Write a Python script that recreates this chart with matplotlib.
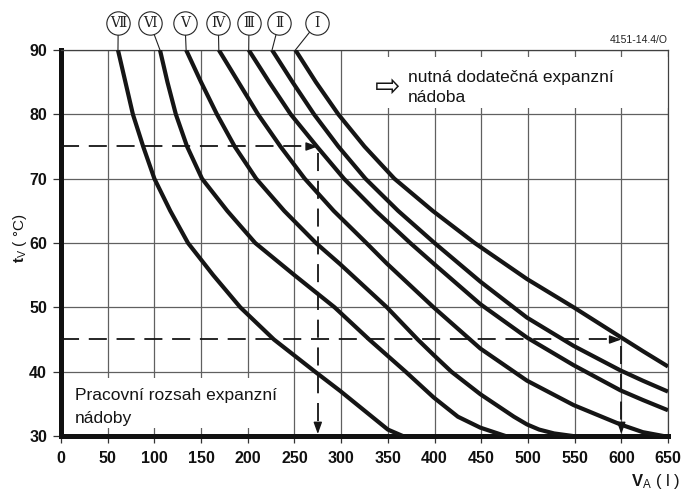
import matplotlib
matplotlib.use('Agg')
import matplotlib.pyplot as plt
from matplotlib.patches import Rectangle

# ---------------- data ----------------
roman = ['Ⅰ', 'Ⅱ', 'Ⅲ', 'Ⅳ', 'Ⅴ', 'Ⅵ', 'Ⅶ']

vol_I = [251, 273, 297, 325, 357, 398, 443, 499, 549, 599, 623, 650]
tv_I = [90, 85, 80, 75, 70, 65, 60, 54.4, 50, 45.4, 43.2, 40.8]

vol_II = [226, 248, 271, 297, 326, 361, 400, 449, 499, 549, 599, 623, 650]
tv_II = [90, 85, 80, 75, 70, 65, 60, 54, 48.4, 44, 40.2, 38.6, 36.9]

vol_III = [201, 223, 246, 274, 303, 337, 374, 399, 449, 499, 549, 599, 623, 650]
tv_III = [90, 85, 80, 75, 70, 65, 60, 56.8, 50.5, 45.3, 41.0, 37.1, 35.6, 34.0]

vol_IV = [169, 190, 211, 235, 261, 292, 327, 349, 399, 449, 499, 549, 599, 623, 645]
tv_IV = [90, 85, 80, 75, 70, 65, 60, 56.8, 50, 43.6, 38.6, 34.8, 31.8, 30.6, 30]

vol_V = [134, 150, 167, 186, 209, 239, 273, 299, 349, 382, 399, 418, 449, 485, 499, 512, 528, 548]
tv_V = [90, 85, 80, 75, 70, 65, 60, 56.7, 50, 45, 42.6, 40, 36.5, 33, 31.8, 31, 30.4, 30]

vol_VI = [106, 114, 123, 135, 151, 178, 208, 250, 293, 330, 369, 399, 425, 449, 476]
tv_VI = [90, 85, 80, 75, 70, 65, 60, 55, 50, 45, 40, 36, 33, 31.3, 30]

vol_VII = [61, 69, 77, 88, 100, 117, 136, 163, 192, 228, 272, 299, 316, 333, 350, 366]
tv_VII = [90, 85, 80, 75, 70, 65, 60, 55, 50, 45, 40, 37, 35, 33, 31, 30]

curves_vol = [vol_I, vol_II, vol_III, vol_IV, vol_V, vol_VI, vol_VII]
curves_tv = [tv_I, tv_II, tv_III, tv_IV, tv_V, tv_VI, tv_VII]

# example readings (V_A, t_V)
example_vol = [275, 600]
example_tv = [75, 45]

x_ticks = list(range(0, 651, 50))
y_ticks = list(range(30, 91, 10))

# label circle x-positions (layout)
label_x = [273.8, 233.4, 201.3, 168.4, 132.8, 95.3, 61.3]
label_y = 94.15

# ---------------- figure ----------------
plt.rcParams['font.family'] = ['Liberation Sans', 'DejaVu Sans']
plt.rcParams['mathtext.fontset'] = 'custom'
plt.rcParams['mathtext.rm'] = 'Liberation Sans'
plt.rcParams['mathtext.bf'] = 'Liberation Sans:bold'
plt.rcParams['mathtext.it'] = 'Liberation Sans'
plt.rcParams['lines.scale_dashes'] = False

W, H = 685, 490
fig = plt.figure(figsize=(W / 100, H / 100), dpi=100)
ax = fig.add_axes([61 / W, 1 - 436 / H, (668 - 61) / W, (436 - 50) / H])
ax.set_xlim(0, 650)
ax.set_ylim(30, 90)
ax.set_xticks(x_ticks)
ax.set_yticks(y_ticks)
ax.set_axisbelow(True)
ax.grid(True, color='#606060', lw=0.9)

for s in ['top', 'right']:
    ax.spines[s].set_linewidth(0.9)
    ax.spines[s].set_color('#404040')
for s in ['left', 'bottom']:
    ax.spines[s].set_linewidth(3.6)
    ax.spines[s].set_color('#111111')
    ax.spines[s].set_capstyle('projecting')

ax.tick_params(axis='y', direction='out', length=6, width=0.9, color='#333333', pad=4)
ax.tick_params(axis='x', direction='out', length=5, width=0.9, color='#333333', pad=6)
for lbl in ax.get_xticklabels() + ax.get_yticklabels():
    lbl.set_fontweight('bold')
    lbl.set_fontsize(11.5)
    lbl.set_color('#111111')

# white boxes behind the texts (cover grid)
ax.add_patch(Rectangle((330, 81.0), 320, 7.9, facecolor='white', edgecolor='none', zorder=1))
ax.add_patch(Rectangle((1.5, 31.2), 241, 7.8, facecolor='white', edgecolor='none', zorder=1))

# curves
for xs, ys in zip(curves_vol, curves_tv):
    ax.plot(xs, ys, color='#151515', lw=3.0, solid_joinstyle='round',
            solid_capstyle='butt', zorder=3, clip_on=True)

# labels with circles and leaders
for i in range(7):
    ax.plot([label_x[i], curves_vol[i][0]], [label_y, curves_tv[i][0]],
            color='#222222', lw=0.8, clip_on=False, zorder=4)
ax.plot(label_x, [label_y] * 7, 'o', ms=16.8, mfc='white', mec='#222222',
        mew=0.8, clip_on=False, zorder=5)
for i in range(7):
    ax.text(label_x[i], label_y, roman[i], ha='center', va='center', fontsize=10,
            family=['DejaVu Serif', 'DejaVu Sans'], zorder=6, clip_on=False,
            color='#222222')

# example dashed lines with arrows
dash = (13, 7)
for v, t in zip(example_vol, example_tv):
    ax.plot([0, v - 8], [t, t], color='#151515', lw=1.3, dashes=dash, zorder=4)
    ax.annotate('', xy=(v, t), xytext=(v - 9, t),
                arrowprops=dict(arrowstyle='-|>,head_length=0.5,head_width=0.18',
                                mutation_scale=14, color='#151515', lw=1.0,
                                shrinkA=0, shrinkB=0), zorder=5)
    ax.plot([v, v], [t - 1.0, 31.5], color='#151515', lw=1.3, dashes=dash, zorder=4)
    ax.annotate('', xy=(v, 30.3), xytext=(v, 32.0),
                arrowprops=dict(arrowstyle='-|>,head_length=0.5,head_width=0.18',
                                mutation_scale=14, color='#151515', lw=1.0,
                                shrinkA=0, shrinkB=0), zorder=5)

# texts
ax.text(350, 84.2, '⇨', family=['DejaVu Sans'], fontsize=22, ha='center', va='center',
        color='#151515', zorder=6)
ax.text(371.5, 85.0, 'nutná dodatečná expanzní', fontsize=12.5, ha='left', va='baseline',
        color='#151515', zorder=6)
ax.text(371.5, 81.9, 'nádoba', fontsize=12.5, ha='left', va='baseline',
        color='#151515', zorder=6)
ax.text(15, 35.57, 'Pracovní rozsah expanzní', fontsize=12.5, ha='left', va='baseline',
        color='#151515', zorder=6)
ax.text(15, 32.0, 'nádoby', fontsize=12.5, ha='left', va='baseline',
        color='#151515', zorder=6)

fig.text(668 / W, 1 - 40 / H, '4151-14.4/O', fontsize=7.5, ha='right', va='center',
         color='#222222')
fig.text(680 / W, 1 - 481 / H, r'$\mathbf{V}_{\mathrm{A}}$ ( l )', fontsize=12,
         ha='right', va='center', color='#151515')
fig.text(20 / W, 1 - 238 / H, r'$\mathbf{t}_{V}$ ( °C)', fontsize=11, rotation=90,
         ha='center', va='center', color='#151515')

fig.savefig('out.png', dpi=100)
